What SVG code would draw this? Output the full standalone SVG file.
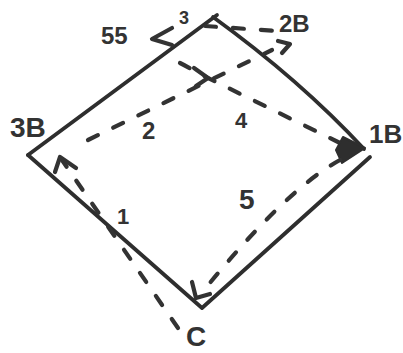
<svg xmlns="http://www.w3.org/2000/svg" width="403" height="353" viewBox="0 0 403 353">
<style>
.edge{fill:none;stroke:#2e2e2e;stroke-width:3.8;stroke-linecap:round;stroke-linejoin:round}
.dash{fill:none;stroke:#333;stroke-width:4.2;stroke-linecap:round;stroke-linejoin:round;stroke-dasharray:11 17}
.head{fill:none;stroke:#333;stroke-width:4.2;stroke-linecap:round;stroke-linejoin:round}
.lbl{font-family:"Liberation Sans",Arial,sans-serif;font-weight:bold;fill:#333}
</style>
<rect width="403" height="353" fill="#fff"/>
<g id="shape">
<path class="edge" d="M28,155 L217,15"/>
<path class="edge" d="M213,17 Q300,80 364,149"/>
<path class="edge" d="M370,157 L202,308 L28,155"/>
</g>
<g id="connectors">
<path id="e1" class="dash" d="M178,328 L62,160"/>
<path class="head" d="M55,172 L60,157 L76,168"/>
<path id="e2" class="dash" d="M88,140 L272,50"/>
<path class="head" d="M278,41 L290,44 L282,53"/>
<path id="e3" class="dash" d="M205,26 L276,31"/>
<path id="e4" class="dash" d="M180,63 Q190,68 200,74 L340,143"/>
<path class="head" d="M172,28 L152,39 L172,45"/>
<path class="head" d="M194,68 L208,78 L196,86"/>
<polygon points="343,137 365,148 342,163 336,150" fill="#2e2e2e" stroke="#2e2e2e" stroke-width="2" stroke-linejoin="round"/>
<path id="e5" class="dash" d="M340,160 Q285,190 200,295"/>
<path class="head" d="M192,282 L196,298 L210,294"/>
</g>
<g id="labels">
<text class="lbl" x="101" y="44" font-size="24">55</text>
<text class="lbl" x="179" y="24" font-size="18">3</text>
<text class="lbl" x="279" y="32" font-size="24">2B</text>
<text class="lbl" x="10" y="137" font-size="28">3B</text>
<text class="lbl" x="369" y="143" font-size="26">1B</text>
<text class="lbl" x="186" y="346" font-size="28">C</text>
<text class="lbl" x="117" y="224" font-size="22">1</text>
<text class="lbl" x="142" y="139" font-size="24">2</text>
<text class="lbl" x="235" y="128" font-size="22">4</text>
<text class="lbl" x="239" y="209" font-size="28">5</text>
</g>
</svg>
